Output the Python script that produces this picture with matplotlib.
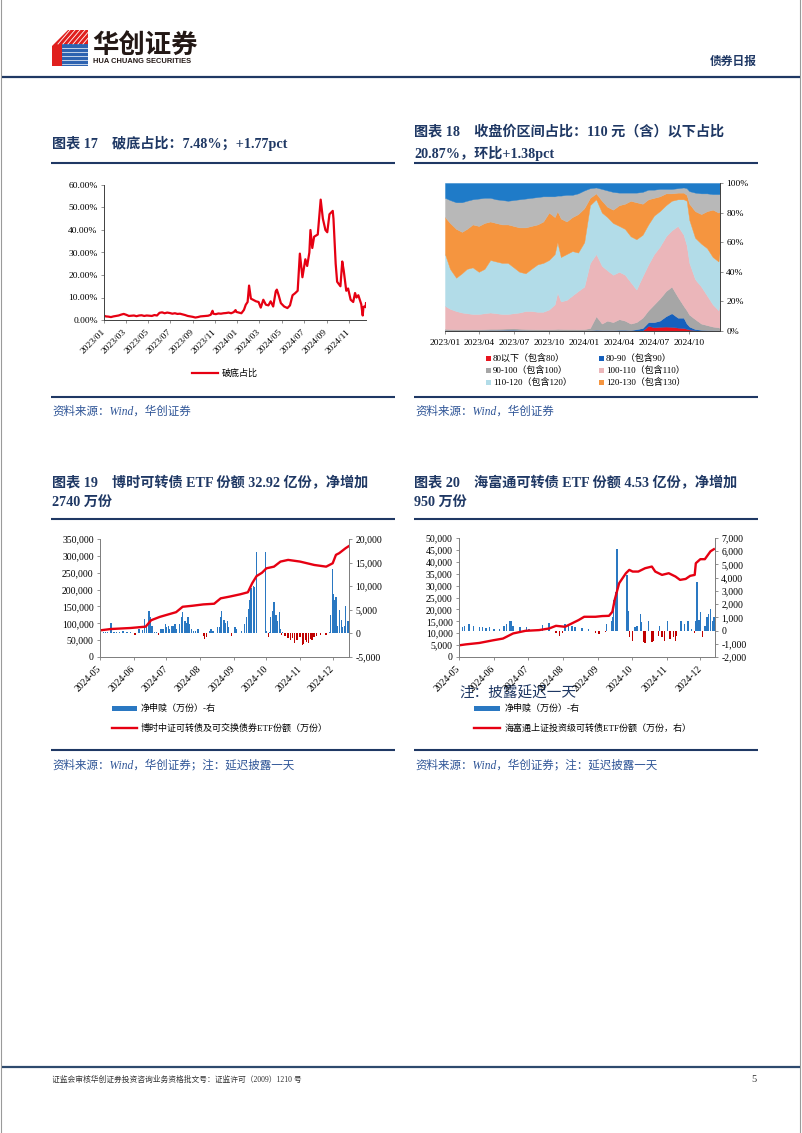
import matplotlib
matplotlib.use('Agg')
import matplotlib.pyplot as plt
import matplotlib.dates as mdates
import numpy as np
from matplotlib.patches import Rectangle, Polygon
from matplotlib.ticker import FuncFormatter

plt.rcParams['font.family'] = ['Liberation Serif', 'Noto Sans CJK SC']
plt.rcParams['axes.unicode_minus'] = False

W, H = 802, 1133
NAVY = '#1F3864'
SRC = '#2F5597'
AXC = '#808080'
RED = '#E60012'
BLUE = '#2A78C2'
DRED = '#C00000'

# ---------------- data: chart 17 (破底占比, %) ----------------
p17_dates = ["2023-01-03", "2023-01-06", "2023-01-13", "2023-01-20", "2023-01-27", "2023-02-03", "2023-02-10", "2023-02-17", "2023-02-24", "2023-03-03",
             "2023-03-10", "2023-03-17", "2023-03-24", "2023-03-31", "2023-04-07", "2023-04-14", "2023-04-21", "2023-04-28", "2023-05-05", "2023-05-12",
             "2023-05-19", "2023-05-26", "2023-06-02", "2023-06-09", "2023-06-16", "2023-06-23", "2023-06-30", "2023-07-07", "2023-07-14", "2023-07-21",
             "2023-07-28", "2023-08-04", "2023-08-11", "2023-08-18", "2023-08-25", "2023-09-01", "2023-09-08", "2023-09-15", "2023-09-22", "2023-09-29",
             "2023-10-06", "2023-10-13", "2023-10-20", "2023-10-25", "2023-10-27", "2023-11-03", "2023-11-10", "2023-11-17", "2023-11-24", "2023-12-01",
             "2023-12-08", "2023-12-15", "2023-12-22", "2023-12-27", "2023-12-29", "2024-01-05", "2024-01-12", "2024-01-19", "2024-01-24", "2024-01-29",
             "2024-02-02", "2024-02-07", "2024-02-21", "2024-02-28", "2024-03-05", "2024-03-12", "2024-03-19", "2024-03-26", "2024-04-01", "2024-04-08",
             "2024-04-15", "2024-04-18", "2024-04-23", "2024-04-29", "2024-05-08", "2024-05-17", "2024-05-24", "2024-05-31", "2024-06-07", "2024-06-14",
             "2024-06-20", "2024-06-27", "2024-07-05", "2024-07-10", "2024-07-16", "2024-07-19", "2024-07-24", "2024-07-29", "2024-08-08", "2024-08-16",
             "2024-08-22", "2024-08-29", "2024-09-03", "2024-09-09", "2024-09-18", "2024-09-20", "2024-09-26", "2024-09-30", "2024-10-09", "2024-10-14",
             "2024-10-18", "2024-10-25", "2024-10-30", "2024-11-06", "2024-11-13", "2024-11-18", "2024-11-22", "2024-11-27", "2024-12-05", "2024-12-09",
             "2024-12-11", "2024-12-13", "2024-12-17", "2024-12-18"]
p17_values = [1.8, 1.6, 1.5, 1.3, 1.6, 1.8, 2.0, 2.4, 2.7, 2.3,
              1.8, 1.9, 2.0, 1.7, 2.0, 2.1, 1.8, 2.0, 1.9, 1.8,
              2.2, 2.0, 3.2, 3.4, 3.0, 3.3, 3.1, 2.8, 3.0, 2.7,
              2.8, 2.5, 2.2, 1.8, 1.6, 1.4, 1.1, 1.3, 1.6, 1.7,
              1.8, 1.9, 2.3, 4.1, 2.8, 2.6, 2.9, 2.8, 3.0, 3.1,
              3.3, 3.0, 3.5, 4.4, 3.6, 3.3, 3.0, 4.5, 6.8, 8.0,
              15.3, 9.5, 8.3, 8.0, 5.5, 9.0, 6.8, 6.5, 8.3, 6.0,
              12.7, 13.5, 11.0, 7.5, 6.0, 5.3, 6.5, 11.0, 11.9, 13.0,
              29.5, 19.0, 27.0, 24.0, 30.0, 40.0, 32.0, 37.0, 38.0, 53.5,
              45.0, 40.0, 39.0, 47.0, 48.5, 45.0, 25.0, 17.0, 15.0, 26.0,
              22.0, 13.0, 14.0, 9.0, 8.0, 12.0, 10.0, 11.0, 7.0, 2.0,
              5.7, 6.0, 5.71, 7.48]
p17_ticks = ["2023-01-01", "2023-03-01", "2023-05-01", "2023-07-01", "2023-09-01", "2023-11-01",
             "2024-01-01", "2024-03-01", "2024-05-01", "2024-07-01", "2024-09-01", "2024-11-01"]
p17_ticklabels = ["2023/01", "2023/03", "2023/05", "2023/07", "2023/09", "2023/11",
                  "2024/01", "2024/03", "2024/05", "2024/07", "2024/09", "2024/11"]

# ---------------- data: chart 18 (cumulative share at/below price, %) ----------------
p18_dates = ["2023-01-03", "2023-01-16", "2023-02-01", "2023-02-16", "2023-03-01", "2023-03-16", "2023-04-01", "2023-04-16", "2023-05-01", "2023-05-16",
             "2023-06-01", "2023-06-16", "2023-07-01", "2023-07-16", "2023-08-01", "2023-08-16", "2023-09-01", "2023-09-16", "2023-10-01", "2023-10-16",
             "2023-10-23", "2023-11-01", "2023-11-16", "2023-12-01", "2023-12-16",
             "2024-01-01", "2024-01-16", "2024-02-01", "2024-02-16", "2024-03-01", "2024-03-16", "2024-04-01", "2024-04-16", "2024-05-01", "2024-05-16",
             "2024-06-01", "2024-06-16", "2024-07-01", "2024-07-16", "2024-08-01", "2024-08-16", "2024-09-01", "2024-09-16", "2024-09-24", "2024-10-01",
             "2024-10-16", "2024-11-01", "2024-11-16", "2024-12-01", "2024-12-16", "2024-12-20"]
le80 = [0.1] * 25 + [0, 0, 0.2, 0.1, 0.1, 0.1, 0.1, 0.1, 0.1, 0.2,
                     0.3, 3.5, 2.5, 2.8, 3.0, 2.8, 2.3, 2.0, 1.5, 1.0,
                     0.4, 0.2, 0.1, 0.1, 0.1, 0.1]
le90 = [0.4, 0.4, 0.3, 0.3, 0.3, 0.3, 0.4, 0.5, 0.6, 0.6,
        0.7, 0.8, 0.8, 0.6, 0.5, 0.4, 0.3, 0.3, 0.3, 0.3,
        0.4, 0.4, 0.3, 0.3, 0.3,
        0.3, 0.4, 0.8, 0.6, 0.6, 0.5, 0.8, 0.8, 0.6, 1.2,
        2.0, 6.0, 6.0, 7.0, 10.0, 12.0, 9.0, 9.0, 5.0, 3.0,
        1.3, 0.8, 0.6, 0.5, 0.4, 0.4]
le100 = [1.5, 1.3, 1.2, 1.2, 1.2, 1.2, 1.2, 1.3, 1.5, 1.5,
         1.6, 1.7, 1.8, 1.6, 1.4, 1.3, 1.2, 1.2, 1.2, 1.3,
         1.5, 1.4, 1.3, 1.3, 1.2,
         1.3, 2.0, 10.0, 5.0, 7.0, 6.0, 8.0, 7.0, 5.0, 6.0,
         9.0, 14.0, 18.0, 22.0, 27.0, 30.0, 23.0, 17.0, 14.0, 11.0,
         8.0, 5.0, 4.0, 3.0, 2.5, 2.0]
le110 = [17, 15, 13.5, 12.5, 12, 11.5, 11.5, 12, 12.5, 12,
         11.5, 11.5, 12, 12.5, 13.5, 13.5, 13, 13, 14.5, 18,
         26, 20, 21, 24, 27,
         30, 46, 52, 44, 41, 38, 40, 38, 33, 28,
         37, 45, 52, 57, 64, 68, 71, 65, 58, 46,
         35, 30, 24, 18, 14, 20.87]
le120 = [52, 42, 36, 39, 42, 43, 40, 42, 48, 47,
         46, 46, 43, 40, 39, 42, 45, 46, 48, 52,
         60, 50, 52, 54, 53,
         60, 85, 89, 80, 77, 73, 71, 69, 64, 62,
         65, 72, 78, 81, 85, 88, 89, 89, 88, 75,
         63, 59, 56, 50, 47, 55]
le130 = [77, 73, 69, 67, 69, 72, 71, 73, 74, 73,
         72, 72, 71, 70, 70, 71, 72, 74, 80, 77,
         81, 76, 74, 77, 79,
         83, 90, 93, 88, 84, 82, 85, 86, 88, 87,
         86, 89, 90, 91, 93, 93, 93.5, 93.5, 92, 86,
         81, 79, 81, 82, 80, 81]
le140 = [90, 88.5, 87, 87, 88, 89, 89.5, 90, 90, 89,
         88.5, 88, 88.5, 89, 89.5, 90, 90.5, 91, 91, 91,
         91.5, 91.5, 92, 92, 93,
         95, 96.5, 97, 96, 95, 94, 93.5, 93.5, 93.5, 93.5,
         94, 95.5, 95.5, 96, 96, 96, 96.5, 97, 96.5, 94.5,
         93.5, 93, 93, 92.5, 92.5, 92.5]
p18_labels = ["80以下（包含80）", "80-90（包含90）", "90-100（包含100）",
              "100-110（包含110）", "110-120（包含120）", "120-130（包含130）"]
p18_colors = ['#E8141E', '#1560BD', '#A6A6A6', '#EBB6BA', '#B2DCE8', '#F5953F', '#B8B8B8', '#1F7BC8']
p18_ticks = ["2023-01-03", "2023-04-01", "2023-07-01", "2023-10-01", "2024-01-01", "2024-04-01", "2024-07-01", "2024-10-01"]
p18_ticklabels = ["2023/01", "2023/04", "2023/07", "2023/10", "2024/01", "2024/04", "2024/07", "2024/10"]

# ---------------- data: chart 19 (博时) ----------------
c19_line_dates = ["2024-05-01", "2024-05-11", "2024-05-29", "2024-06-12", "2024-06-17", "2024-06-25", "2024-07-10", "2024-07-16", "2024-07-25", "2024-08-04",
                  "2024-08-14", "2024-08-20", "2024-08-28", "2024-09-07", "2024-09-14", "2024-09-18", "2024-09-22", "2024-09-27", "2024-10-01", "2024-10-08",
                  "2024-10-14", "2024-10-21", "2024-11-01", "2024-11-14", "2024-11-25", "2024-12-01", "2024-12-04", "2024-12-07", "2024-12-13", "2024-12-16"]
c19_line_values = [79000, 83000, 86000, 90000, 109000, 119000, 133000, 149000, 152000, 156000,
                   158000, 174000, 179000, 186000, 192000, 219000, 240000, 250000, 263000, 268000,
                   283000, 288000, 283000, 273000, 268000, 278000, 303000, 308000, 323000, 329200]
c19_bar_dates = ["2024-05-04", "2024-05-06", "2024-05-08", "2024-05-11", "2024-05-14", "2024-05-16", "2024-05-19", "2024-05-22", "2024-05-26", "2024-05-29",
                 "2024-06-02", "2024-06-06", "2024-06-09", "2024-06-11", "2024-06-13", "2024-06-15", "2024-06-16", "2024-06-18", "2024-06-20", "2024-06-22",
                 "2024-06-24", "2024-06-26", "2024-06-28", "2024-06-30", "2024-07-01", "2024-07-03", "2024-07-04", "2024-07-06", "2024-07-07", "2024-07-09",
                 "2024-07-10", "2024-07-13", "2024-07-15", "2024-07-16", "2024-07-18", "2024-07-19", "2024-07-21", "2024-07-22", "2024-07-24", "2024-07-26",
                 "2024-07-28", "2024-07-30", "2024-08-04", "2024-08-05", "2024-08-07", "2024-08-10", "2024-08-11", "2024-08-13", "2024-08-17", "2024-08-19",
                 "2024-08-20", "2024-08-21", "2024-08-23", "2024-08-24", "2024-08-26", "2024-08-27", "2024-08-30", "2024-09-02", "2024-09-03", "2024-09-08",
                 "2024-09-11", "2024-09-13", "2024-09-15", "2024-09-16", "2024-09-17", "2024-09-19", "2024-09-20", "2024-09-22", "2024-09-30", "2024-10-01",
                 "2024-10-03", "2024-10-04", "2024-10-05", "2024-10-07", "2024-10-08", "2024-10-10", "2024-10-11", "2024-10-13", "2024-10-14", "2024-10-15",
                 "2024-10-16", "2024-10-18", "2024-10-21", "2024-10-23", "2024-10-25", "2024-10-27", "2024-10-29", "2024-11-01", "2024-11-03", "2024-11-04",
                 "2024-11-06", "2024-11-07", "2024-11-09", "2024-11-11", "2024-11-12", "2024-11-14", "2024-11-16", "2024-11-20", "2024-11-25", "2024-11-28",
                 "2024-11-29", "2024-12-01", "2024-12-02", "2024-12-03", "2024-12-04", "2024-12-05", "2024-12-07", "2024-12-09", "2024-12-10", "2024-12-12",
                 "2024-12-13", "2024-12-15"]
c19_bar_values = [300, 400, 300, 2100, 400, 300, 200, 500, 300, 400,
                  -280, 900, 700, 3000, 1300, 4800, 3400, 1600, 400, 300,
                  -350, 900, 900, 2000, 1300, 1600, 900, 1600, 1600, 2000,
                  900, 2000, 3400, 4500, 2700, 2200, 3400, 2000, 900, 600,
                  500, 900, -500, -1200, -800, 500, 900, 500, 1300, 1300,
                  3400, 4800, 2800, 2300, 2700, 1300, -500, 1300, 900, 500,
                  2000, 3400, 5200, 7000, 9700, 10000, 9800, 17350, 17350, 580,
                  -850, 300, 3400, 4800, 6600, 4000, 2600, 4600, 900, -300,
                  300, -550, -900, -1300, -1000, -2100, -1500, -700, -2500, -2200,
                  -1500, -1800, -2000, -1200, -1500, -800, -600, -400, -300, 300,
                  3800, 13700, 8400, 7000, 7700, 1500, 5000, 2900, 1300, 1600,
                  5900, 2700]

# ---------------- data: chart 20 (海富通) ----------------
c20_line_dates = ["2024-05-01", "2024-05-07", "2024-05-19", "2024-05-31", "2024-06-09", "2024-06-18", "2024-06-29", "2024-07-11", "2024-07-20", "2024-07-26",
                  "2024-08-03", "2024-08-09", "2024-08-15", "2024-08-20", "2024-08-30", "2024-09-05", "2024-09-11", "2024-09-14", "2024-09-16", "2024-09-20",
                  "2024-09-26", "2024-09-29", "2024-10-02", "2024-10-07", "2024-10-13", "2024-10-19", "2024-10-22", "2024-10-28", "2024-11-03", "2024-11-09",
                  "2024-11-13", "2024-11-18", "2024-11-22", "2024-11-26", "2024-11-27", "2024-12-01", "2024-12-05", "2024-12-10", "2024-12-13"]
c20_line_values = [4900, 5300, 5900, 7000, 7750, 9900, 11000, 11300, 12000, 13100,
                   12700, 14100, 15500, 16900, 16900, 17200, 17300, 19000, 23900, 31000,
                   35200, 36600, 35900, 35900, 37300, 38000, 35900, 34500, 35200, 33800,
                   32400, 32800, 34100, 34500, 39400, 41100, 41100, 44400, 45300]
c20_bar_dates = ["2024-05-04", "2024-05-06", "2024-05-10", "2024-05-14", "2024-05-19", "2024-05-22", "2024-05-25", "2024-05-28", "2024-06-01", "2024-06-06",
                 "2024-06-10", "2024-06-12", "2024-06-15", "2024-06-16", "2024-06-18", "2024-06-24", "2024-06-30", "2024-07-02", "2024-07-14", "2024-07-20",
                 "2024-07-26", "2024-07-29", "2024-08-01", "2024-08-03", "2024-08-06", "2024-08-09", "2024-08-12", "2024-08-18", "2024-08-24", "2024-08-30",
                 "2024-09-02", "2024-09-08", "2024-09-09", "2024-09-13", "2024-09-14", "2024-09-15", "2024-09-17", "2024-09-18", "2024-09-27", "2024-09-28",
                 "2024-09-29", "2024-10-02", "2024-10-04", "2024-10-06", "2024-10-09", "2024-10-10", "2024-10-12", "2024-10-13", "2024-10-16", "2024-10-19",
                 "2024-10-20", "2024-10-25", "2024-10-26", "2024-10-28", "2024-10-30", "2024-11-02", "2024-11-04", "2024-11-07", "2024-11-09", "2024-11-10",
                 "2024-11-14", "2024-11-17", "2024-11-20", "2024-11-23", "2024-11-26", "2024-11-27", "2024-11-28", "2024-11-30", "2024-12-01", "2024-12-03",
                 "2024-12-05", "2024-12-07", "2024-12-08", "2024-12-10", "2024-12-12", "2024-12-13"]
c20_bar_values = [300, 380, 500, 380, 250, 250, 200, 250, 130, 130,
                  330, 500, 700, 760, 380, 250, 250, 130, 450, 560,
                  -200, -380, -150, 500, 500, 380, 250, 180, 130, -200,
                  -250, -130, 500, 760, 1000, 2300, 2900, 6200, 4200, 1500,
                  -460, -760, 250, 380, 1270, 630, -890, -960, 760, -890,
                  -760, -380, 380, -500, -760, 760, -630, -500, -760, -380,
                  710, 500, 760, 130, -200, 710, 3700, 810, 1400, -500,
                  380, 1000, 1270, 1650, 760, 1000]
etf_ticks = ["2024-05-01", "2024-06-01", "2024-07-01", "2024-08-01", "2024-09-01", "2024-10-01", "2024-11-01", "2024-12-01"]
etf_ticklabels = ["2024-05", "2024-06", "2024-07", "2024-08", "2024-09", "2024-10", "2024-11", "2024-12"]

# ---------------- figure ----------------
fig = plt.figure(figsize=(W / 100, H / 100), dpi=100)
bg = fig.add_axes([0, 0, 1, 1])
bg.set_xlim(0, W)
bg.set_ylim(H, 0)
bg.axis('off')


def add_ax(x0, y0, x1, y1):
    return fig.add_axes([x0 / W, 1 - y1 / H, (x1 - x0) / W, (y1 - y0) / H])


def hl(x0, x1, y, color=NAVY, lw=1.5):
    bg.plot([x0, x1], [y, y], color=color, lw=lw, solid_capstyle='butt')


def style_ticks(ax, size=6.8):
    ax.tick_params(axis='both', which='both', length=2.5, width=0.6, color=AXC,
                   labelsize=size, pad=2, labelcolor='#000000')


# page border
bg.plot([1, 1], [0, H], color='#9A9A9A', lw=0.8)
bg.plot([W - 2, W - 2], [0, H], color='#9A9A9A', lw=0.8)

# header logo
bg.add_patch(Polygon([(52, 46), (68, 30), (88, 30), (88, 44), (62, 44), (62, 66), (52, 66)],
                     closed=True, facecolor='#E0201E', edgecolor='none'))
bg.add_patch(Rectangle((62, 44), 26, 22, facecolor='#2E63B0', edgecolor='none'))
for k in range(6):
    bg.plot([58 + k * 5, 70 + k * 5], [44, 30], color='white', lw=0.6)
for k in range(5):
    bg.plot([62, 88], [48 + k * 4, 48 + k * 4], color='white', lw=0.5)
bg.text(92, 45, "华创证券", fontsize=19, fontweight='bold', family=['Noto Sans CJK SC'],
        color='#231815', va='center', ha='left')
bg.text(93, 61.5, "HUA CHUANG SECURITIES", fontsize=5.4, fontweight='bold',
        family=['Liberation Sans'], color='#231815', va='center', ha='left')
bg.text(757, 62, "债券日报", fontsize=8.5, color=NAVY, va='center', ha='right', fontweight='bold')
hl(2, W - 2, 76.5, NAVY, 1.6)

# section titles
TFS = 10.2
bg.text(52, 143, "图表 17\u3000破底占比：7.48%；+1.77pct", fontsize=TFS, fontweight='bold', color=NAVY, va='center')
bg.text(414, 132, "图表 18\u3000收盘价区间占比：110 元（含）以下占比", fontsize=TFS, fontweight='bold', color=NAVY, va='center')
bg.text(414, 153, "20.87%，环比+1.38pct", fontsize=TFS, fontweight='bold', color=NAVY, va='center')
bg.text(52, 483, "图表 19\u3000博时可转债 ETF 份额 32.92 亿份，净增加", fontsize=TFS, fontweight='bold', color=NAVY, va='center')
bg.text(52, 503, "2740 万份", fontsize=TFS, fontweight='bold', color=NAVY, va='center')
bg.text(414, 483, "图表 20\u3000海富通可转债 ETF 份额 4.53 亿份，净增加", fontsize=TFS, fontweight='bold', color=NAVY, va='center')
bg.text(414, 503, "950 万份", fontsize=TFS, fontweight='bold', color=NAVY, va='center')
for y in (163, 397):
    hl(51, 395, y)
    hl(414, 758, y)
for y in (519, 750):
    hl(51, 395, y)
    hl(414, 758, y)
bg.text(52, 412, "资料来源：Wind，华创证券", fontsize=8.3, color=SRC, style='italic', va='center')
bg.text(415, 412, "资料来源：Wind，华创证券", fontsize=8.3, color=SRC, style='italic', va='center')
bg.text(52, 765, "资料来源：Wind，华创证券；注：延迟披露一天", fontsize=8.3, color=SRC, style='italic', va='center')
bg.text(415, 765, "资料来源：Wind，华创证券；注：延迟披露一天", fontsize=8.3, color=SRC, style='italic', va='center')

# footer
hl(2, W - 2, 1067, '#2E4A6E', 1.6)
bg.text(52, 1080, "证监会审核华创证券投资咨询业务资格批文号：证监许可（2009）1210 号", fontsize=5.6,
        color='#333333', va='center')
bg.text(757, 1080, "5", fontsize=7.5, color='#333333', va='center', ha='right')

# ---------------- chart 17 ----------------
ax = add_ax(104, 185, 366, 320)
x17 = mdates.datestr2num(p17_dates)
ax.plot(x17, p17_values, color=RED, lw=1.6)
ax.set_ylim(0, 60)
ax.set_xlim(mdates.datestr2num("2023-01-01"), x17[-1])
ax.set_yticks(range(0, 61, 10))
ax.set_yticklabels([f"{v:.2f}%" for v in range(0, 61, 10)])
ax.set_xticks(mdates.datestr2num(p17_ticks))
ax.set_xticklabels(p17_ticklabels, rotation=45, ha='right', va='center', rotation_mode='anchor')
for s in ('top', 'right'):
    ax.spines[s].set_visible(False)
for s in ('left', 'bottom'):
    ax.spines[s].set_color('#404040')
    ax.spines[s].set_linewidth(0.7)
style_ticks(ax)
ax.tick_params(axis='x', pad=5)
ax.set_facecolor('none')
bg.plot([192, 218], [373, 373], color=RED, lw=1.6)
bg.text(222, 373, "破底占比", fontsize=6.5, va='center', color='#000000')

# ---------------- chart 18 ----------------
ax = add_ax(445, 183, 720, 331)
x18 = mdates.datestr2num(p18_dates)
cum = np.vstack([np.zeros(len(x18)), le80, le90, le100, le110, le120, le130, le140, np.full(len(x18), 100.0)])
bands = np.diff(cum, axis=0)
polys = ax.stackplot(x18, bands, colors=p18_colors, linewidth=0)
for p, c in zip(polys, p18_colors):
    p.set_edgecolor(c)
    p.set_linewidth(0.3)
ax.set_xlim(x18[0], x18[-1])
ax.set_ylim(0, 100)
ax.yaxis.tick_right()
ax.set_yticks(range(0, 101, 20))
ax.set_yticklabels([f"{v}%" for v in range(0, 101, 20)])
ax.set_xticks(mdates.datestr2num(p18_ticks))
ax.set_xticklabels(p18_ticklabels)
for s in ('top', 'left'):
    ax.spines[s].set_visible(False)
for s in ('right', 'bottom'):
    ax.spines[s].set_color('#404040')
    ax.spines[s].set_linewidth(0.7)
style_ticks(ax)
ax.tick_params(axis='x', pad=3)
leg_pos = [(488, 358), (601, 358), (488, 370), (601, 370), (488, 382), (601, 382)]
for (lx, ly), lab, col in zip(leg_pos, p18_labels, p18_colors[:6]):
    bg.add_patch(Rectangle((lx - 2.5, ly - 2.5), 5, 5, facecolor=col, edgecolor='none'))
    bg.text(lx + 5, ly, lab, fontsize=6.5, va='center', color='#000000')

# ---------------- chart 19 / 20 helper ----------------
def etf_chart(box, ldates, lvals, bdates, bvals, lylim, lstep, rylim, rstep, xend):
    ax = add_ax(*box)
    ax2 = ax.twinx()
    xb = mdates.datestr2num(bdates)
    cols = [BLUE if v >= 0 else DRED for v in bvals]
    ax2.bar(xb, bvals, width=1.3, color=cols, linewidth=0)
    xl = mdates.datestr2num(ldates)
    ax.plot(xl, lvals, color=RED, lw=1.7)
    ax.set_zorder(ax2.get_zorder() + 1)
    ax.patch.set_visible(False)
    x0 = mdates.datestr2num("2024-05-01")
    x1 = mdates.datestr2num(xend)
    ax.set_xlim(x0, x1)
    ax2.set_xlim(x0, x1)
    ax.set_ylim(*lylim)
    ax.set_yticks(np.arange(lylim[0], lylim[1] + 1, lstep))
    ax2.set_ylim(*rylim)
    ax2.set_yticks(np.arange(rylim[0], rylim[1] + 1, rstep))
    fmt = FuncFormatter(lambda v, p: f"{int(round(v)):,}")
    ax.yaxis.set_major_formatter(fmt)
    ax2.yaxis.set_major_formatter(fmt)
    ax.set_xticks(mdates.datestr2num(etf_ticks))
    ax.set_xticklabels(etf_ticklabels, rotation=45, ha='right', va='center', rotation_mode='anchor')
    for a in (ax, ax2):
        a.spines['top'].set_visible(False)
        for s in ('left', 'right', 'bottom'):
            a.spines[s].set_color('#808080')
            a.spines[s].set_linewidth(0.7)
        style_ticks(a, 7)
    ax.tick_params(axis='x', pad=5)
    return ax, ax2


etf_chart((100, 539, 349, 657), c19_line_dates, c19_line_values, c19_bar_dates, c19_bar_values,
          (0, 350000), 50000, (-5000, 20000), 5000, "2024-12-16")
etf_chart((459, 538, 715, 657), c20_line_dates, c20_line_values, c20_bar_dates, c20_bar_values,
          (0, 50000), 5000, (-2000, 7000), 1000, "2024-12-14")

# legends for 19 / 20
bg.add_patch(Rectangle((112, 705.5), 25, 5, facecolor=BLUE, edgecolor='none'))
bg.text(141, 708, "净申赎（万份）-右", fontsize=6.5, va='center')
bg.plot([112, 137], [728, 728], color=RED, lw=1.7)
bg.text(141, 728, "博时中证可转债及可交换债券ETF份额（万份）", fontsize=6.5, va='center')

bg.add_patch(Rectangle((474, 705.5), 26, 5, facecolor=BLUE, edgecolor='none'))
bg.text(505, 708, "净申赎（万份）-右", fontsize=6.5, va='center')
bg.plot([474, 500], [728, 728], color=RED, lw=1.7)
bg.text(505, 728, "海富通上证投资级可转债ETF份额（万份，右）", fontsize=6.5, va='center')
bg.text(459, 693, "注：披露延迟一天", fontsize=10.5, color=NAVY, va='center')

fig.savefig("out.png", dpi=100)
